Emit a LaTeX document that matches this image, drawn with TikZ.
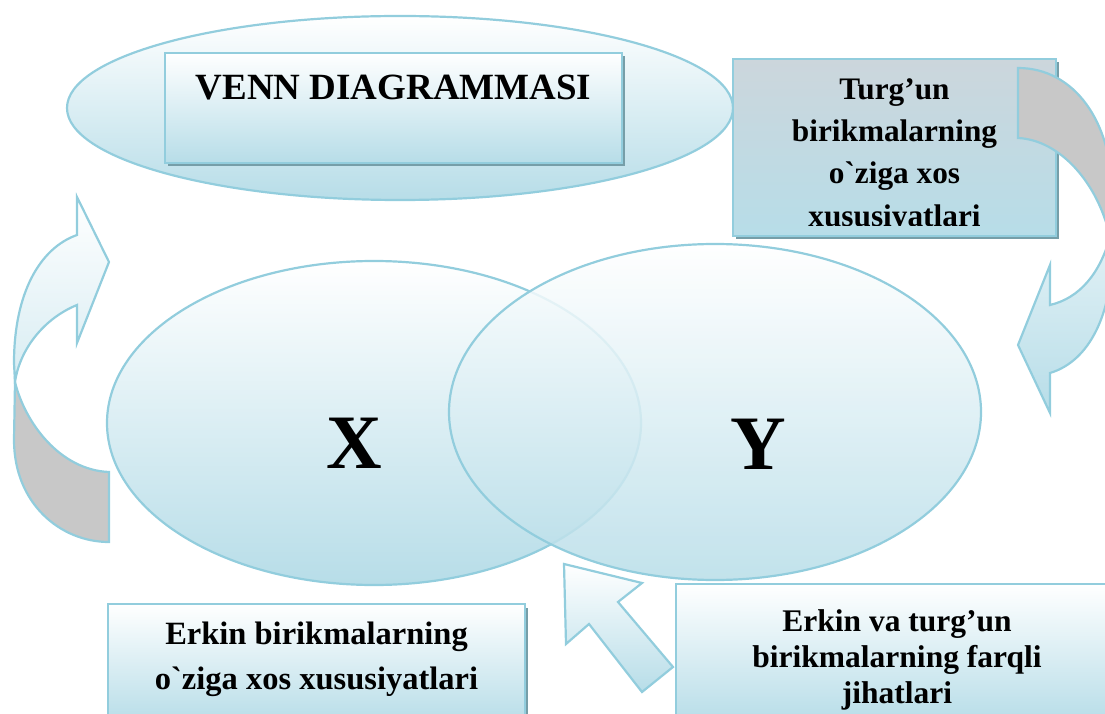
\documentclass[tikz,border=0pt]{standalone}
\usepackage{fontspec}
\setmainfont{Liberation Serif}[Ligatures=TeXOff]
\usetikzlibrary{shadows,shapes.geometric}
\definecolor{vline}{RGB}{146,205,221}
\definecolor{vfill}{RGB}{183,221,232}
\definecolor{shadowc}{RGB}{118,158,168}
\definecolor{boxtop}{RGB}{204,214,220}
\definecolor{arrgray}{RGB}{200,200,200}
\tikzset{
  outl/.style={draw=vline, line width=2.2pt},
  grad/.style={outl, top color=white, bottom color=vfill},
  box/.style={grad, rectangle, inner sep=0pt,
    drop shadow={shadow xshift=2.5pt, shadow yshift=-3.5pt, fill=shadowc, opacity=1}},
  vell/.style={outl, ellipse, inner sep=0pt},
  lblA/.style={anchor=base, inner sep=0pt, font=\bfseries\fontsize{31.3}{36}\selectfont},
  lblB/.style={anchor=base, inner sep=0pt, font=\bfseries\fontsize{32.5}{38}\selectfont},
  lblC/.style={anchor=base, inner sep=0pt, font=\bfseries\fontsize{31.5}{36}\selectfont},
  big/.style={anchor=base, inner sep=0pt, font=\bfseries\fontsize{77}{80}\selectfont},
}
\begin{document}
\begin{tikzpicture}[x=1pt,y=1pt]
\useasboundingbox (0,0) rectangle (1105,713);
\clip (0,0) rectangle (1105,713);

% top ellipse and title box
\node[vell, top color=white, bottom color=vfill, minimum width=666pt, minimum height=184pt] (topell) at (400,605) {};
\node[box, minimum width=457pt, minimum height=110pt] (title) at (393.5,605) {};
\node[anchor=base, inner sep=0pt, font=\bfseries\fontsize{37}{44}\selectfont] (titletext) at (393.5,613) {VENN DIAGRAMMASI};

% left curved arrow
\draw[outl, fill=arrgray] (15,331) -- (14,273) .. controls (14,210) and (60,171) .. (109,171) -- (109,241) .. controls (60,243) and (25,290) .. (15,331) -- cycle;
\draw[outl, top color=white, bottom color=vfill!55!white] (77,478) -- (77,516) -- (109,451) -- (77,370) -- (77,408) .. controls (45,395) and (20,365) .. (15,331) -- (14,350) .. controls (14,420) and (40,465) .. (77,478) -- cycle;

% Venn ellipses
\node[vell, top color=white, bottom color=vfill, minimum width=534pt, minimum height=324pt] (X) at (374,290) {};
\node[vell, top color=white, bottom color=vfill, fill opacity=0.85, minimum width=532pt, minimum height=336pt] (Y) at (715,301) {};
\node[big] (xl) at (354.5,245) {X};
\node[big] (yl) at (758,244) {Y};

% top right box
\node[box, top color=boxtop, bottom color=vfill, minimum width=323pt, minimum height=177pt] (tr) at (894.5,565.5) {};
\node[lblA] (tr1) at (894.5,613) {Turg’un};
\node[lblA] (tr2) at (894.5,571) {birikmalarning};
\node[lblA] (tr3) at (894.5,529) {o`ziga xos};
\begin{scope}
  \clip (733,487.5) rectangle (1056,654);
  \node[lblA] (tr4) at (894.5,486.5) {xususiyatlari};
\end{scope}

% right curved arrow
\draw[outl, fill=arrgray] (1018,645) .. controls (1075,645) and (1112,590) .. (1112,520) -- (1110,476) .. controls (1098,530) and (1060,573) .. (1018,575) -- cycle;
\draw[outl, top color=vfill!40!white, bottom color=vfill] (1110,476) .. controls (1100,440) and (1080,415) .. (1050,408) -- (1050,448) -- (1018,368) -- (1050,300) -- (1050,340) .. controls (1090,352) and (1112,400) .. (1112,460) -- cycle;

% bottom left box
\node[box, minimum width=417pt, minimum height=119pt] (bl) at (316.5,49.5) {};
\node[lblB] (bl1) at (316.5,69) {Erkin birikmalarning};
\node[lblB] (bl2) at (316.5,24) {o`ziga xos xususiyatlari};

% bottom right box
\node[box, minimum width=442pt, minimum height=139pt] (br) at (897,59.5) {};
\node[lblC] (br1) at (897,82) {Erkin va turg’un};
\node[lblC] (br2) at (897,46) {birikmalarning farqli};
\node[lblC] (br3) at (897,10) {jihatlari};

% up-left arrow
\draw[outl, top color=white, bottom color=vfill] (564,149) -- (642,130) -- (618,111) -- (673,46) -- (642,21) -- (589,89) -- (566,69) -- cycle;
\end{tikzpicture}
\end{document}
